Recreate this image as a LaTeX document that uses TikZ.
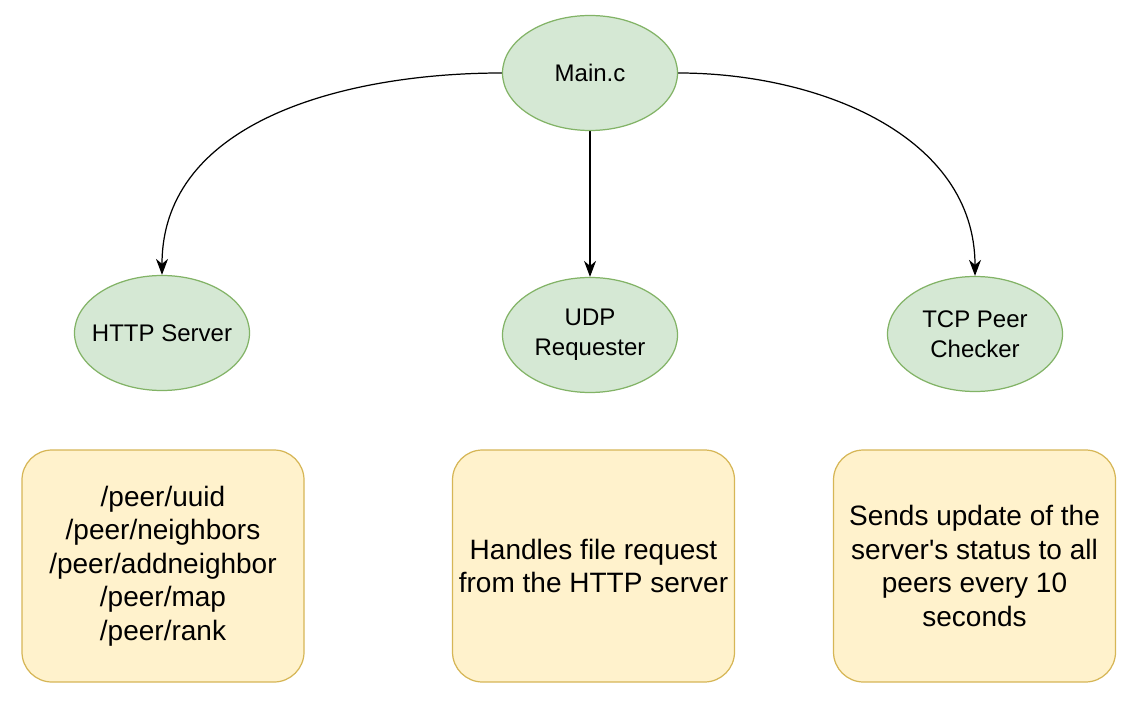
\documentclass[tikz,border=0pt]{standalone}
\usepackage{fontspec}
\setmainfont{Liberation Sans}
\usetikzlibrary{arrows.meta}
\usetikzlibrary{shapes.geometric}
\pgfdeclarelayer{edgelayer}
\pgfdeclarelayer{nodelayer}
\pgfsetlayers{edgelayer,nodelayer,main}
\definecolor{modfill}{HTML}{D5E8D4}
\definecolor{moddraw}{HTML}{82B366}
\definecolor{notefill}{HTML}{FFF2CC}
\definecolor{notedraw}{HTML}{D6B656}
\tikzstyle{module}=[ellipse,fill=modfill,draw=moddraw,line width=0.7pt,minimum width=3.5cm,minimum height=2.3cm,inner xsep=-0.5cm,inner ysep=0pt,align=center,font=\fontsize{13.66}{17.1}\selectfont]
\tikzstyle{note}=[rectangle,rounded corners=0.6cm,fill=notefill,draw=notedraw,line width=0.7pt,minimum width=5.64cm,minimum height=4.64cm,align=center,font=\fontsize{15.94}{19}\selectfont]
\tikzstyle{call}=[-{Stealth[length=3.2mm,width=2.4mm,inset=1mm]},draw=black,line width=0.7pt]

\begin{document}
\begin{tikzpicture}
	\useasboundingbox (0, 0) rectangle (22.76, -14.04);
	\begin{pgfonlayer}{nodelayer}
		\node [style=module] (0) at (11.8, -1.46) {Main.c};
		\node [style=module] (1) at (3.24, -6.66) {HTTP Server};
		\node [style=module] (2) at (11.8, -6.7) {UDP\\Requester};
		\node [style=module] (3) at (19.5, -6.68) {TCP Peer\\Checker};
		\node [style=note] (4) at (3.26, -11.32) {/peer/uuid\\/peer/neighbors\\/peer/addneighbor\\/peer/map\\/peer/rank};
		\node [style=note] (5) at (11.87, -11.32) {Handles file request\\from the HTTP server};
		\node [style=note] (6) at (19.49, -11.32) {Sends update of the\\server\textquotesingle s status to all\\peers every 10\\seconds};
	\end{pgfonlayer}
	\begin{pgfonlayer}{edgelayer}
		\draw [style=call, out=180, in=90] (0.west) to (1.north);
		\draw [style=call] (0) to (2);
		\draw [style=call, out=0, in=90] (0.east) to (3.north);
	\end{pgfonlayer}
\end{tikzpicture}
\end{document}
